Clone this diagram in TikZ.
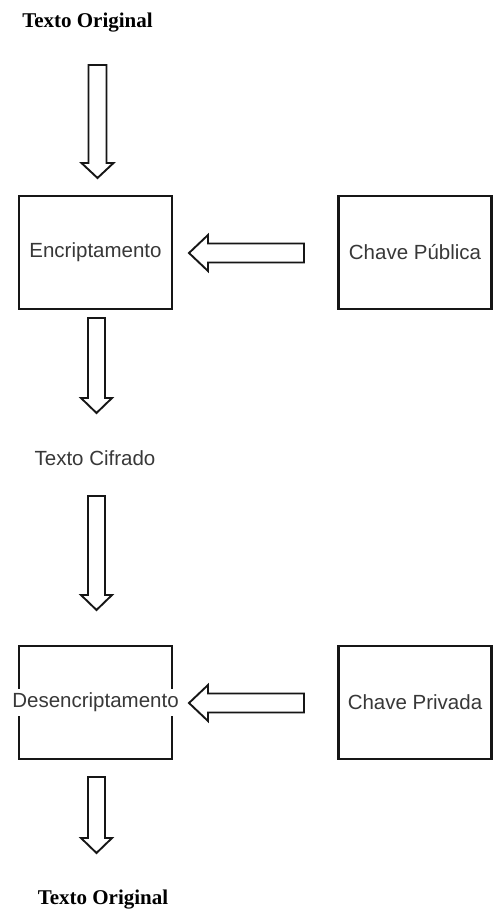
\documentclass[tikz,border=0pt]{standalone}
\usepackage{fontspec}
\setmainfont{Liberation Sans}
\newfontfamily\titlefont{Liberation Serif}
\usetikzlibrary{calc}

\definecolor{ink}{HTML}{383838}
\definecolor{boxline}{HTML}{161616}

% Hollow block arrow from #1 to #2: shaft half-width #3, head half-width #4, tip length #5
\newcommand{\hollowarrow}[5]{%
  \coordinate (ha-b) at ($(#2)!#5!(#1)$);
  \draw[arrowline] ($(#1)!#3!90:(#2)$) -- ($(ha-b)!#3!90:(#2)$) -- ($(ha-b)!#4!90:(#2)$)
    -- (#2) -- ($(ha-b)!#4!-90:(#2)$) -- ($(ha-b)!#3!-90:(#2)$) -- ($(#1)!#3!-90:(#2)$) -- cycle;
}

\begin{document}
\begin{tikzpicture}[x=1pt,y=-1pt,
  box/.style={draw=boxline, line width=2.2pt, minimum width=153pt, minimum height=113pt, inner sep=0pt},
  boxtext/.style={text=ink, font=\fontsize{20.5}{24}\selectfont},
  headtext/.style={font=\titlefont\bfseries\fontsize{21}{25}\selectfont},
  arrowline/.style={draw=boxline, line width=1.9pt, fill=white, line join=miter}]
\useasboundingbox[fill=white] (0,0) rectangle (494,915);

% text blocks and boxes
\node[headtext] (src) at (87.5,23) {Texto Original};
\node[box,boxtext] (enc) at (95.5,252.5) {Encriptamento};
\node[box,boxtext] (pub) at (415,252.5) {Chave Pública};
\node[boxtext] (cif) at (95,458) {Texto Cifrado};
\node[box] (dec) at (95.5,702.5) {};
\node[boxtext, fill=white, inner sep=4pt] (declbl) at (dec) {Desencriptamento};
\node[box,boxtext] (priv) at (415,702.5) {Chave Privada};
\node[headtext] (dst) at (103,900) {Texto Original};

% arrow end points
\coordinate (a1s) at (97.5,65);  \coordinate (a1e) at (97.5,178);
\coordinate (a2s) at (304,253);  \coordinate (a2e) at (189,253);
\coordinate (a3s) at (96.5,318); \coordinate (a3e) at (96.5,413);
\coordinate (a4s) at (96.5,496); \coordinate (a4e) at (96.5,610);
\coordinate (a5s) at (304,703);  \coordinate (a5e) at (189,703);
\coordinate (a6s) at (96.5,777); \coordinate (a6e) at (96.5,853);

% block arrows
\hollowarrow{a1s}{a1e}{9pt}{16pt}{15pt}
\hollowarrow{a2s}{a2e}{9.5pt}{18pt}{19pt}
\hollowarrow{a3s}{a3e}{8.5pt}{15.5pt}{15pt}
\hollowarrow{a4s}{a4e}{8.5pt}{15.5pt}{15pt}
\hollowarrow{a5s}{a5e}{9.5pt}{18pt}{19pt}
\hollowarrow{a6s}{a6e}{8.5pt}{15.5pt}{15pt}
\end{tikzpicture}
\end{document}
